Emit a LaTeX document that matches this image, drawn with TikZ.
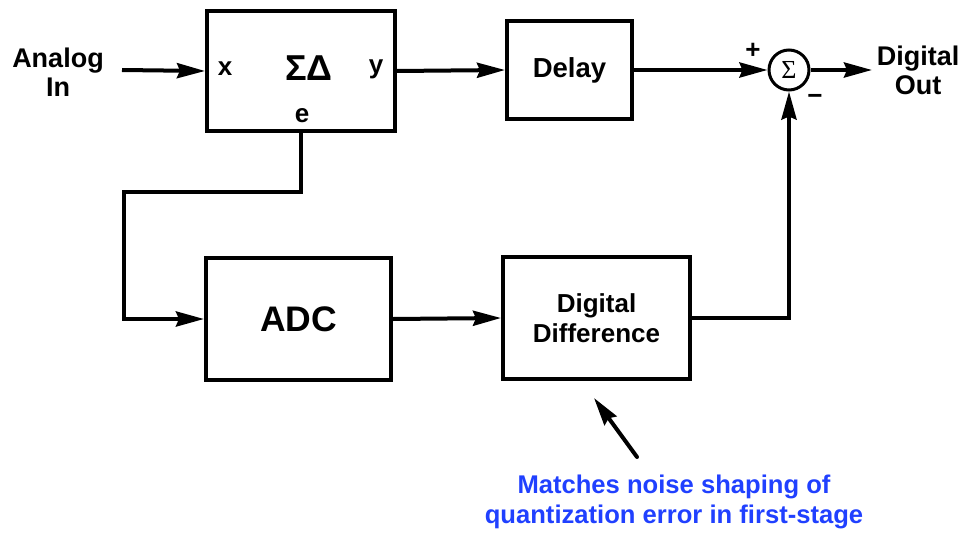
\documentclass[tikz,border=0pt]{standalone}
\usepackage{fontspec}
\setmainfont{Liberation Sans}
\newfontfamily\serifsym{Liberation Serif}
\usetikzlibrary{arrows.meta,positioning}
\definecolor{noteblue}{RGB}{32,64,255}

\begin{document}
\begin{tikzpicture}[x=1pt,y=-1pt,
    blk/.style={draw,line width=4pt,inner sep=0pt,font=\bfseries\fontsize{27.5}{30}\selectfont,align=center},
    txt/.style={font=\bfseries\fontsize{27}{29}\selectfont,align=center,inner sep=0pt},
    pin/.style={font=\bfseries\fontsize{26}{28}\selectfont,inner sep=0pt},
    arr/.style={line width=4pt,-{Stealth[length=28pt,width=15pt,inset=3pt]}},
    wire/.style={line width=4pt}]
    \useasboundingbox (0,0) rectangle (964,535);

    % top row
    \node[txt] (ain) at (58,72) {Analog\\In};
    \coordinate (ainr) at (122,70);
    \node[blk,minimum width=188pt,minimum height=119pt] (sd) at (301,71) {};
    \node[txt,font=\bfseries\fontsize{36}{40}\selectfont] (sdlab) at (309,68) {ΣΔ};
    \node[pin] (sdx) at (225,69) {x};
    \node[pin] (sdy) at (376,69) {y};
    \node[pin] (sde) at (302,116) {e};
    \node[blk,minimum width=125pt,minimum height=98pt] (dly) at (569.5,70) {Delay};
    \node[draw,circle,line width=3pt,minimum size=40pt,inner sep=0pt,
          font=\serifsym\fontsize{26}{28}\selectfont] (sum) at (789,70) {Σ};
    \node[pin] (plus) at (753,51) {+};
    \node[pin] (minus) at (815,99) {−};
    \coordinate (doutl) at (872,70);
    \node[txt] (dout) at (918,70) {Digital\\Out};

    % bottom row
    \node[blk,minimum width=185pt,minimum height=122pt,font=\bfseries\fontsize{35.5}{40}\selectfont] (adc) at (298.5,319) {ADC};
    \node[blk,minimum width=187pt,minimum height=122pt,font=\bfseries\fontsize{26}{30}\selectfont] (dd) at (596.5,318) {Digital\\Difference};
    \coordinate (bend) at (124,192);

    % note
    \node[txt,text=noteblue,font=\bfseries\fontsize{25.6}{30}\selectfont] (note) at (674,502)
        {Matches noise shaping of\\quantization error in first-stage};
    \coordinate (notet) at (637,457);
    \coordinate (noteh) at (594,398);

    \draw[arr] (ainr) -- (sd.west);
    \draw[arr] (sd.east) -- (dly.west);
    \draw[arr] (dly.east) -- (sum.west);
    \draw[arr] (sum.east) -- (doutl);
    \draw[arr] (sd.south) |- (bend) |- (adc.west);
    \draw[arr] (adc.east) -- (dd.west);
    \draw[arr] (dd.east) -| (sum.south);
    \draw[arr,line cap=round] (notet) -- (noteh);
\end{tikzpicture}
\end{document}
